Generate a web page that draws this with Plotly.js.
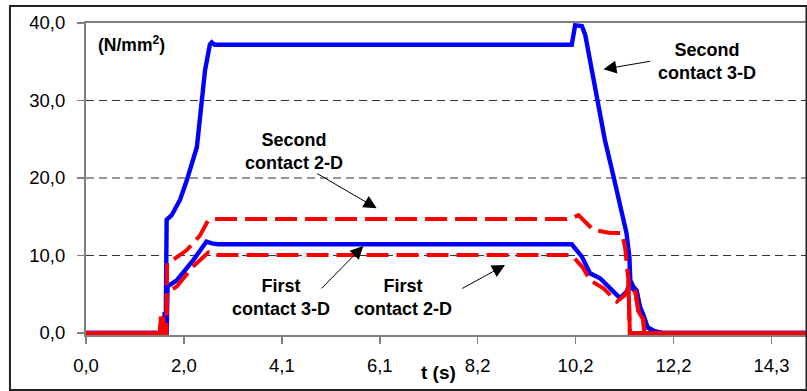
<!DOCTYPE html>
<html><head><meta charset="utf-8">
<script src="https://cdn.plot.ly/plotly-3.0.1.min.js"></script>
<style>html,body{margin:0;padding:0;background:#fff;} #chart{width:807px;height:391px;}</style>
</head><body><div id="chart"></div>
<script>
// ---- Data (t in s, pressure in N/mm²) ----
const tSecond3D = [0, 1.60, 1.62, 1.64, 1.65, 1.66, 1.68, 1.785, 1.96, 2.10, 2.31, 2.41, 2.48, 2.58, 2.62, 2.68, 10.12, 10.19, 10.33, 10.40, 10.57, 10.64, 10.81, 10.99, 11.16, 11.26, 11.32, 11.34, 11.40, 11.47, 11.54, 11.60, 11.68, 11.85, 12.0, 15.0];
const vSecond3D = [0, 0, 0, 2.7, 0.5, 0, 14.6, 15.2, 17.2, 19.7, 24.0, 29.6, 33.9, 37.2, 37.5, 37.2, 37.2, 39.7, 39.6, 38.5, 32.6, 30.1, 24.9, 20.2, 15.9, 12.9, 9.85, 6.8, 6.0, 5.5, 3.4, 2.5, 0.8, 0.2, 0, 0];

const tFirst3D = [0, 1.60, 1.63, 1.65, 1.68, 1.70, 1.89, 2.235, 2.51, 2.62, 2.75, 10.12, 10.33, 10.50, 10.71, 11.125, 11.26, 11.33, 11.40, 11.47, 11.54, 11.62, 11.70, 11.85, 12.0, 15.0];
const vFirst3D = [0, 0, 2.2, 0, 0, 6.0, 6.8, 9.4, 11.8, 11.57, 11.45, 11.45, 9.85, 7.7, 7.06, 4.5, 5.3, 6.4, 5.6, 5.3, 3.2, 2.2, 0.7, 0.2, 0, 0];

const tSecond2D = [0, 1.54, 1.56, 1.58, 1.60, 1.62, 1.67, 1.69, 1.715, 1.85, 2.10, 2.375, 2.55, 2.65, 10.0, 10.12, 10.26, 10.40, 10.57, 10.92, 11.16, 11.23, 11.30, 11.33, 15.0];
const vSecond2D = [0, 0, 2.1, 0.3, 1.8, 0, 0, 9.0, 9.2, 9.6, 10.7, 12.6, 14.6, 14.7, 14.7, 14.8, 15.2, 14.4, 13.3, 12.9, 12.9, 11.1, 6.8, 0, 0];

const tFirst2D = [0, 1.55, 1.57, 1.59, 1.61, 1.63, 1.67, 1.69, 1.715, 1.89, 2.235, 2.55, 2.65, 10.12, 10.36, 10.50, 10.78, 11.06, 11.23, 11.33, 11.44, 11.51, 11.61, 11.63, 15.0];
const vFirst2D = [0, 0, 1.5, 0, 2.1, 0, 0, 5.3, 5.3, 6.0, 8.6, 10.4, 10.06, 10.06, 8.35, 6.8, 5.77, 4.04, 4.9, 6.2, 5.5, 2.75, 1.7, 0, 0];

const xTickVals = [0, 2.04, 4.08, 6.12, 8.16, 10.2, 12.24, 14.28];
const xTickText = ['0,0', '2,0', '4,1', '6,1', '8,2', '10,2', '12,2', '14,3'];
const yTickVals = [0, 10, 20, 30, 40];

const seriesLabels = ['Second<br>contact 3-D', 'First<br>contact 3-D', 'Second<br>contact 2-D', 'First<br>contact 2-D'];
const xTitle = 't (s)';
const yUnit = '(N/mm<sup>2</sup>)';

// ---- styles ----
const BLUE = '#0000ff', RED = '#ff0000';
const RED_DASH = '22px,8px';

function solidLine(t, v, color, width) {
  return {x: t, y: v, type: 'scatter', mode: 'lines', hoverinfo: 'skip',
          line: {color: color, width: width}, showlegend: false};
}
// dashed red series; the flat zero-level lead-in / tail are drawn solid as in the reference
function dashedWithSolidEnds(t, v, color, width) {
  const out = [];
  const i0 = v.findIndex(y => y > 3);
  let i1 = -1; v.forEach((y, i) => { if (y > 3) i1 = i; });
  out.push({x: t, y: v, type: 'scatter', mode: 'lines', hoverinfo: 'skip',
            line: {color: color, width: width, dash: RED_DASH}, showlegend: false});
  out.push(solidLine(t.slice(0, i0), v.slice(0, i0), color, width));
  out.push(solidLine(t.slice(i1), v.slice(i1), color, width));
  return out;
}

const traces = [
  solidLine(tSecond3D, vSecond3D, BLUE, 4.4),
  solidLine(tFirst3D, vFirst3D, BLUE, 4.4),
  ...dashedWithSolidEnds(tSecond2D, vSecond2D, RED, 4),
  ...dashedWithSolidEnds(tFirst2D, vFirst2D, RED, 4)
];

const FONT = 'Liberation Sans, Arial, sans-serif';
const labelFont = {family: FONT, size: 18, color: '#000'};

function textAnn(text, x, y) {
  return {text: '<b>' + text + '</b>', x: x, y: y, xref: 'x', yref: 'y', showarrow: false,
          font: labelFont, align: 'center', xanchor: 'center', yanchor: 'middle'};
}
function arrowAnn(x, y, ax, ay) {
  return {text: '', x: x, y: y, xref: 'x', yref: 'y', ax: ax, ay: ay, showarrow: true,
          arrowhead: 2, arrowsize: 2.6, arrowwidth: 1, arrowcolor: '#000', standoff: 0, startstandoff: 0};
}

const annotations = [
  textAnn(seriesLabels[0], 12.94, 34.97),
  textAnn(seriesLabels[2], 4.33, 23.48),
  textAnn(seriesLabels[1], 4.06, 4.58),
  textAnn(seriesLabels[3], 6.60, 4.58),
  arrowAnn(10.78, 34.03, 48.4, -8.3),
  arrowAnn(6.056, 16.09, -61, -35.6),
  arrowAnn(5.777, 11.23, -43.3, 44),
  arrowAnn(8.729, 8.77, -44.3, 24.3),
  {text: '<b>' + yUnit + '</b>', x: 0.2, y: 37.3, xref: 'x', yref: 'y', showarrow: false,
   font: {family: FONT, size: 17.5, color: '#000'}, xanchor: 'left', yanchor: 'middle'},
  {text: '<b>' + xTitle + '</b>', x: 0.489, y: -0.1186, xref: 'paper', yref: 'paper', showarrow: false,
   font: {family: FONT, size: 19, color: '#000'}, xanchor: 'center', yanchor: 'middle'}
];

// dashed horizontal gridlines at the inner y ticks (none on the 0 baseline)
const gridShapes = yTickVals.filter(v => v > 0 && v < 40).map(v => ({
  type: 'line', xref: 'paper', yref: 'y', x0: 0, x1: 1, y0: v, y1: v,
  line: {color: '#333', width: 1, dash: '8px,5px'}, layer: 'below'
}));

const layout = {
  width: 807, height: 391,
  margin: {l: 86, r: 1, t: 23, b: 56, pad: 0},
  paper_bgcolor: '#fff', plot_bgcolor: '#fff',
  separators: ',.',
  font: {family: FONT, size: 18, color: '#000'},
  showlegend: false,
  xaxis: {
    range: [0, 15], tickmode: 'array', tickvals: xTickVals, ticktext: xTickText,
    showgrid: false, zeroline: false, showline: true, mirror: true, layer: 'below traces',
    linecolor: '#808080', linewidth: 2, ticks: 'outside', ticklen: 7, tickwidth: 1.5,
    tickcolor: '#808080', ticklabelstandoff: 6, tickfont: {family: FONT, size: 18.5, color: '#000'}
  },
  yaxis: {
    // a hair below 0 so the thick zero-level lines are not cut in half by the plot edge
    range: [-0.26, 40], tickmode: 'array', tickvals: yTickVals, tickformat: '.1f',
    showgrid: false, zeroline: false,
    showline: true, mirror: true, layer: 'below traces', linecolor: '#808080', linewidth: 2,
    ticks: 'outside', ticklen: 7, tickwidth: 1.5, tickcolor: '#808080',
    ticklabelstandoff: 8, tickfont: {family: FONT, size: 18.5, color: '#000'}
  },
  shapes: gridShapes.concat([{type: 'rect', xref: 'paper', yref: 'paper', x0: -0.1056, x1: 1.0007, y0: -0.1763, y1: 1.0545,
            line: {color: '#222', width: 2}, fillcolor: 'rgba(0,0,0,0)', layer: 'above'}]),
  annotations: annotations
};

Plotly.newPlot('chart', traces, layout, {staticPlot: true, displayModeBar: false});
</script></body></html>
